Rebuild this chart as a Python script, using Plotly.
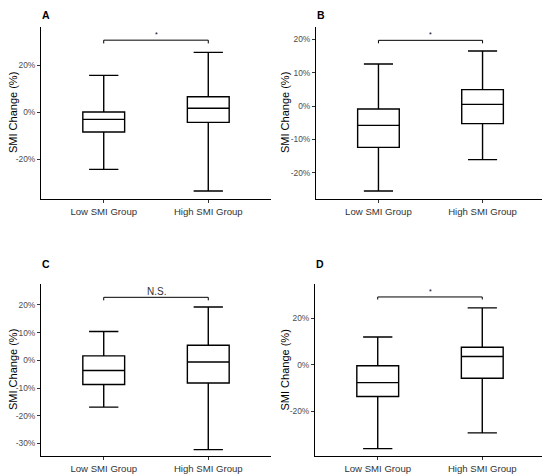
import plotly.graph_objects as go

# the page body has an 8px margin, so the figure is drawn 8px smaller
# and every pixel position below is shifted by that offset
OFF = 8
W, H = 550 - OFF, 475 - OFF

groups = ["Low SMI Group", "High SMI Group"]
panels = ["A", "B", "C", "D"]

# box stats per panel, [low, high], in %
q1 = {"A": [-8.5, -4.4], "B": [-12.4, -5.3], "C": [-8.7, -8.2], "D": [-13.7, -5.8]}
median = {"A": [-3.1, 1.6], "B": [-5.8, 0.5], "C": [-3.7, -0.6], "D": [-7.7, 3.6]}
q3 = {"A": [0.0, 6.5], "B": [-0.9, 4.9], "C": [1.6, 5.4], "D": [-0.4, 7.6]}
lower = {"A": [-24.4, -33.6], "B": [-25.5, -16.1], "C": [-16.9, -32.2], "D": [-36.2, -29.4]}
upper = {"A": [15.6, 25.4], "B": [12.6, 16.5], "C": [10.4, 19.2], "D": [12.0, 24.6]}

# significance brackets
bracket_top = {"A": 30.6, "B": 19.7, "C": 22.7, "D": 29.3}
bracket_tip = {"A": 29.2, "B": 18.8, "C": 21.6, "D": 28.2}
sig_label = {"A": "*", "B": "*", "C": "N.S.", "D": "*"}

y_ranges = {"A": [-37, 36.2], "B": [-27.9, 23.7], "C": [-34.5, 27.5], "D": [-39.4, 34.9]}
y_ticks = {
    "A": [-20, 0, 20],
    "B": [-20, -10, 0, 10, 20],
    "C": [-30, -20, -10, 0, 10, 20],
    "D": [-20, 0, 20],
}

# plot areas in window pixels (left, right, top, bottom)
areas = {
    "A": (41, 271, 27, 199),
    "B": (316, 545, 27, 199),
    "C": (41, 271, 284, 456),
    "D": (315, 545, 284, 456),
}
# x centre of the rotated y title, window pixels
title_x = {"A": 13, "B": 285, "C": 13, "D": 284.5}

FONT = "Liberation Sans, Arial, sans-serif"

fig = go.Figure()
layout = {}
annotations = []

for i, p in enumerate(panels):
    n = "" if i == 0 else str(i + 1)
    xa, ya = "x" + n, "y" + n
    for g in range(2):
        fig.add_trace(go.Box(
            x=[groups[g]], q1=[q1[p][g]], median=[median[p][g]], q3=[q3[p][g]],
            lowerfence=[lower[p][g]], upperfence=[upper[p][g]],
            width=0.4, whiskerwidth=0.7, boxpoints=False,
            fillcolor="white", line=dict(color="black", width=1.4),
            xaxis=xa, yaxis=ya, showlegend=False, hoverinfo="skip",
        ))
    fig.add_trace(go.Scatter(
        x=[groups[0], groups[0], groups[1], groups[1]],
        y=[bracket_tip[p], bracket_top[p], bracket_top[p], bracket_tip[p]],
        mode="lines", line=dict(color="black", width=1),
        xaxis=xa, yaxis=ya, showlegend=False, hoverinfo="skip",
    ))

    l, r, t, b = [v - OFF for v in areas[p]]
    layout["xaxis" + n] = dict(
        domain=[l / W, r / W], anchor=ya, type="category", automargin=False,
        categoryorder="array", categoryarray=groups, range=[-0.6, 1.6],
        showline=True, linecolor="black", linewidth=1, showgrid=False,
        zeroline=False, ticks="outside", ticklen=3, tickcolor="#333333",
        tickfont=dict(family=FONT, size=9.6, color="#333333"),
    )
    layout["yaxis" + n] = dict(
        domain=[1 - b / H, 1 - t / H], anchor=xa, range=y_ranges[p], automargin=False,
        tickvals=y_ticks[p], ticktext=[f"{v}%" for v in y_ticks[p]],
        showline=True, linecolor="black", linewidth=1, showgrid=False,
        zeroline=False, ticks="outside", ticklen=3, tickcolor="#333333",
        tickfont=dict(family=FONT, size=8.4, color="#4D4D4D"),
    )

    # y title
    annotations.append(dict(
        x=(title_x[p] - OFF) / W, y=1 - (t + b) / 2 / H, xref="paper", yref="paper",
        text="SMI Change (%)", textangle=-90, showarrow=False, borderpad=0,
        xanchor="center", yanchor="middle",
        font=dict(family=FONT, size=11, color="black"),
    ))

    # significance label above bracket
    if sig_label[p] == "*":
        annotations.append(dict(
            x=0.5, y=bracket_top[p], xref=xa, yref=ya, text="*", showarrow=False,
            yanchor="bottom", yshift=0, font=dict(family=FONT, size=7, color="black"),
        ))
    else:
        annotations.append(dict(
            x=0.5, y=bracket_top[p], xref=xa, yref=ya, text=sig_label[p], showarrow=False,
            yanchor="bottom", yshift=-2, font=dict(family=FONT, size=10, color="#333333"),
        ))

    # panel letter
    annotations.append(dict(
        x=l / W, y=1 - max(t - 27, 0) / H, xref="paper", yref="paper", text=f"<b>{p}</b>",
        showarrow=False, xanchor="left", yanchor="top", borderpad=0,
        font=dict(family=FONT, size=10.5, color="black"),
    ))

fig.update_layout(
    width=W, height=H, margin=dict(l=0, r=0, t=0, b=0),
    paper_bgcolor="white", plot_bgcolor="white",
    annotations=annotations, **layout,
)

fig.write_html("out.html")
